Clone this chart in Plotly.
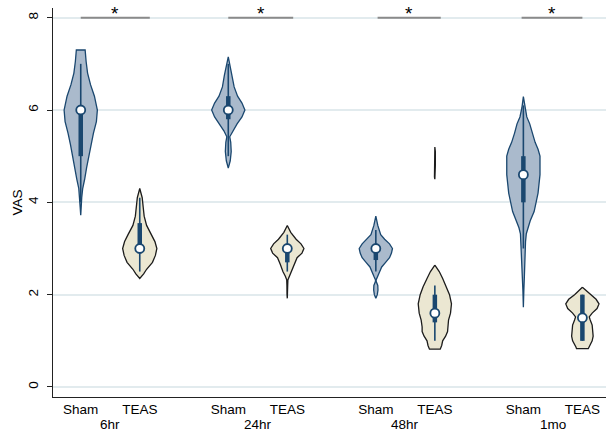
import plotly.graph_objects as go

# ---------------- data ----------------
groups = ["6hr", "24hr", "48hr", "1mo"]
arms = ["Sham", "TEAS"]
positions = [0, 1, 2.5, 3.5, 5, 6, 7.5, 8.5]

# density profiles (y level, relative density) for each violin
sham6_y = [7.30, 7.30, 7.05, 6.80, 6.55, 6.30, 6.00, 5.75, 5.50, 5.25, 5.00, 4.75, 4.50, 4.30, 4.10, 3.90, 3.72]
sham6_d = [0, 4.5, 5.5, 7, 10, 14, 17, 16, 13, 10.5, 8.5, 6, 4, 2, 1, 0.6, 0]
teas6_y = [4.30, 4.10, 3.90, 3.70, 3.50, 3.30, 3.15, 3.00, 2.85, 2.70, 2.55, 2.45, 2.35]
teas6_d = [0, 2.5, 3.5, 4.5, 7, 12, 15.5, 17.5, 16, 13, 7, 4, 0]
sham24_y = [7.15, 6.95, 6.75, 6.50, 6.30, 6.15, 6.00, 5.85, 5.70, 5.55, 5.42, 5.30, 5.10, 4.90, 4.74]
sham24_d = [0, 2, 4, 6, 9.5, 14, 17, 14, 9, 4.5, 1.5, 2.5, 3, 2, 0]
teas24_y = [3.50, 3.35, 3.20, 3.10, 3.00, 2.90, 2.80, 2.65, 2.50, 2.40, 2.32, 2.20, 2.00, 1.92]
teas24_d = [0, 3.5, 9, 14, 17, 15, 10, 7, 4.5, 2, 0.6, 0.4, 0.3, 0]
sham48_y = [3.70, 3.50, 3.30, 3.20, 3.10, 3.00, 2.90, 2.80, 2.70, 2.60, 2.50, 2.40, 2.32, 2.28, 2.20, 2.10, 2.00, 1.92]
sham48_d = [0, 2, 5, 9, 14, 17, 16, 14, 10, 6, 4, 2, 0.3, 0.5, 2, 2.2, 1.5, 0]
teas48_y = [5.20, 5.10, 4.80, 4.55, 4.50, 2.64, 2.50, 2.35, 2.17, 2.00, 1.80, 1.60, 1.45, 1.30, 1.20, 1.10, 1.00, 0.90, 0.82, 0.82]
teas48_d = [0, 0.5, 0.5, 0.4, 0, 0, 4.5, 8, 12, 15, 17, 16, 14, 13, 13, 11, 8, 7, 5.5, 0]
sham1mo_y = [6.29, 6.05, 5.85, 5.70, 5.50, 5.30, 5.15, 5.00, 4.80, 4.60, 4.40, 4.20, 4.00, 3.80, 3.60, 3.45, 3.32, 3.15, 2.90, 2.60, 2.38, 2.10, 1.73]
sham1mo_d = [0, 1.5, 3.5, 6.5, 9, 12, 15, 17, 17, 17, 16, 15, 13, 11, 7, 4.5, 3, 2.2, 2, 1.6, 1, 0.5, 0]
teas1mo_y = [2.16, 2.08, 2.00, 1.90, 1.80, 1.70, 1.60, 1.52, 1.45, 1.34, 1.22, 1.10, 1.00, 0.92, 0.86, 0.83, 0.83]
teas1mo_d = [0, 4, 8, 14, 17, 15, 10, 7, 8, 10, 10.5, 11, 10, 8, 6.5, 6, 0]

profiles_y = [sham6_y, teas6_y, sham24_y, teas24_y, sham48_y, teas48_y, sham1mo_y, teas1mo_y]
profiles_d = [sham6_d, teas6_d, sham24_d, teas24_d, sham48_d, teas48_d, sham1mo_d, teas1mo_d]

# box statistics
medians = [6.0, 3.0, 6.0, 3.0, 3.0, 1.6, 4.6, 1.5]
q1 = [5.0, 2.9, 5.8, 2.7, 2.75, 1.4, 4.0, 1.0]
q3 = [6.0, 3.55, 6.3, 3.0, 3.0, 2.0, 5.0, 2.0]
whisk_lo = [4.0, 2.5, 5.0, 2.5, 2.5, 1.0, 3.0, 1.0]
whisk_hi = [7.0, 4.1, 7.0, 3.3, 3.4, 2.2, 6.1, 2.0]

# significance brackets
sig_start = [0.0, 2.5, 5.03, 7.47]
sig_end = [1.17, 3.6, 6.1, 8.5]
sig_y = 8
sig_text = "*"

yticks = [0, 2, 4, 6, 8]
y_title = "VAS"

# ---------------- styling ----------------
SHAM_FILL = "#aabacc"
SHAM_LINE = "#1a476f"
TEAS_FILL = "#ebe7d2"
TEAS_LINE = "#1c1c1c"
BOX = "#1a476f"
HALF_W = 0.29

fig = go.Figure()

dmax = max(max(d) for d in profiles_d)


def segments(ys, ds):
    segs, cur = [], []
    for y, d in zip(ys, ds):
        cur.append((y, d))
        if d == 0 and len(cur) > 1:
            segs.append(cur)
            cur = []
    if cur:
        segs.append(cur)
    return segs


for i, (ys, ds) in enumerate(zip(profiles_y, profiles_d)):
    c = positions[i]
    sham = i % 2 == 0
    xs_all, ys_all = [], []
    for seg in segments(ys, ds):
        right = [c + HALF_W * d / dmax for _, d in seg]
        left = [c - HALF_W * d / dmax for _, d in seg][::-1]
        yy = [y for y, _ in seg]
        xs_all += right + left + [right[0], None]
        ys_all += yy + yy[::-1] + [yy[0], None]
    fig.add_trace(go.Scatter(
        x=xs_all, y=ys_all, mode="lines", fill="toself",
        fillcolor=SHAM_FILL if sham else TEAS_FILL,
        line=dict(color=SHAM_LINE if sham else TEAS_LINE, width=1.3),
        hoverinfo="skip", showlegend=False))

# whiskers
for i, c in enumerate(positions):
    fig.add_trace(go.Scatter(x=[c, c], y=[whisk_lo[i], whisk_hi[i]], mode="lines",
                             line=dict(color=BOX, width=1.6), hoverinfo="skip", showlegend=False))
    fig.add_trace(go.Scatter(x=[c, c], y=[q1[i], q3[i]], mode="lines",
                             line=dict(color=BOX, width=4.5), hoverinfo="skip", showlegend=False))

fig.add_trace(go.Scatter(x=positions, y=medians, mode="markers",
                         marker=dict(symbol="circle", size=9, color="white",
                                     line=dict(color=BOX, width=1.8)),
                         hoverinfo="skip", showlegend=False))

shapes = []
annotations = []
for s, e in zip(sig_start, sig_end):
    shapes.append(dict(type="line", xref="x", yref="y", x0=s, x1=e, y0=sig_y, y1=sig_y,
                       line=dict(color="#8a8a8a", width=2)))
    annotations.append(dict(x=(s + e) / 2, y=sig_y, xref="x", yref="y", text=sig_text,
                            showarrow=False, yanchor="bottom", yshift=-8,
                            font=dict(size=19, color="black", family="Liberation Sans")))

for gi, g in enumerate(groups):
    mid = (positions[2 * gi] + positions[2 * gi + 1]) / 2
    annotations.append(dict(x=mid, y=0, xref="x", yref="paper", text=g, showarrow=False,
                            yanchor="middle", yshift=-27,
                            font=dict(size=13.5, color="black", family="Liberation Sans")))

annotations.append(dict(x=0, y=0.5, xref="paper", yref="paper", text=y_title, showarrow=False,
                        textangle=-90, xanchor="center", yanchor="middle", xshift=-36,
                        font=dict(size=13.5, color="black", family="Liberation Sans")))

fig.update_layout(
    width=606, height=434,
    margin=dict(l=53, r=0, t=8, b=37, autoexpand=False),
    plot_bgcolor="white", paper_bgcolor="white",
    font=dict(family="Liberation Sans", size=13.5, color="black"),
    shapes=shapes, annotations=annotations, showlegend=False,
    xaxis=dict(range=[-0.47, 8.9], tickvals=positions, ticktext=arms * 4,
               showgrid=False, zeroline=False, showline=True, linecolor="#222",
               linewidth=1.2, ticks="", tickfont=dict(size=13.5), automargin=False),
    yaxis=dict(range=[-0.217, 8.21], tickvals=yticks, tickangle=-90,
               showgrid=True, gridcolor="#e2ebee", gridwidth=1.5, zeroline=False,
               showline=True, linecolor="#222", linewidth=1.2, ticks="outside",
               ticklen=5, tickcolor="#222", tickfont=dict(size=13.5), automargin=False,
               ticklabelstandoff=4),
)

fig.write_html("out.html", config={"displayModeBar": False},
               post_script="document.body.style.margin='0';document.body.style.overflow='hidden';")
